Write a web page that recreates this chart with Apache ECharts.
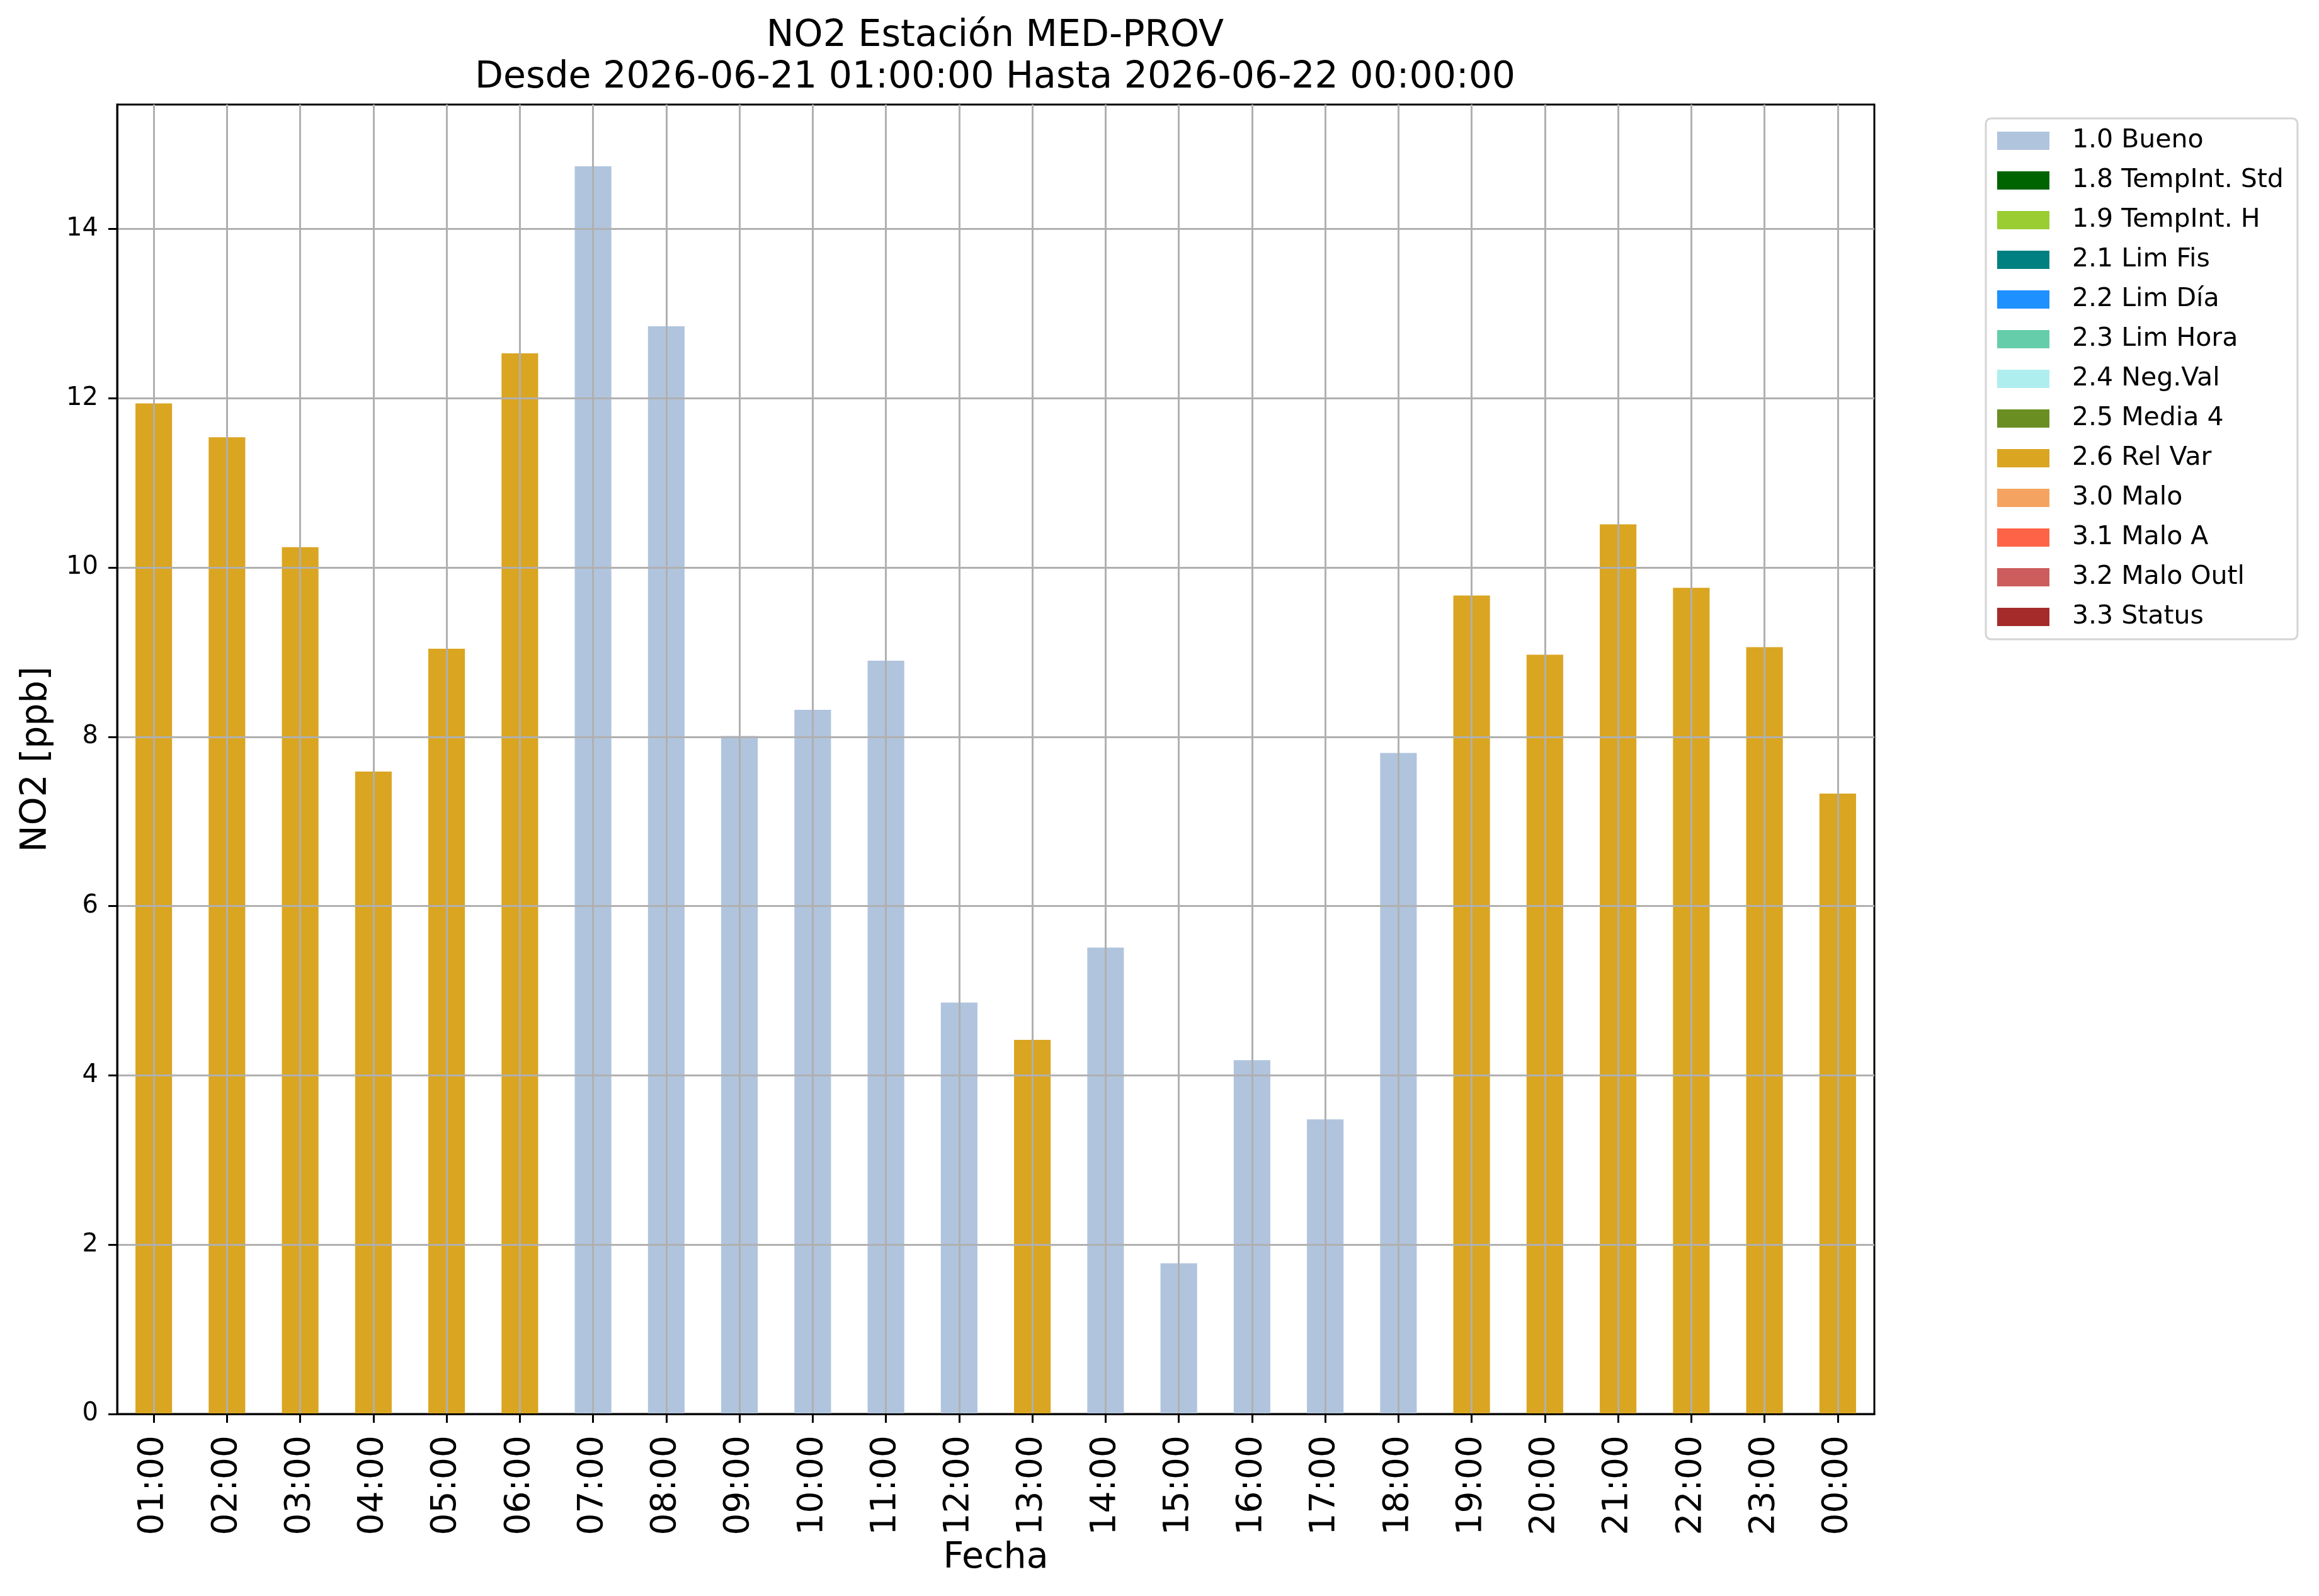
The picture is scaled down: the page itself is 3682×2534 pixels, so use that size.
<!DOCTYPE html>
<html>
<head>
<meta charset="utf-8">
<script src="https://cdn.jsdelivr.net/npm/echarts@6/dist/echarts.min.js"></script>
<style>
html,body{margin:0;padding:0;background:#ffffff;}
#chart{width:3682px;height:2534px;}
</style>
</head>
<body>
<div id="chart"></div>
<script>
// ---- data ----
const categories = ['01:00','02:00','03:00','04:00','05:00','06:00','07:00','08:00','09:00','10:00','11:00','12:00',
                    '13:00','14:00','15:00','16:00','17:00','18:00','19:00','20:00','21:00','22:00','23:00','00:00'];
const values = [11.94, 11.54, 10.24, 7.59, 9.04, 12.53, 14.74, 12.85, 8.01, 8.32, 8.90, 4.86,
                4.42, 5.51, 1.78, 4.18, 3.48, 7.81, 9.67, 8.97, 10.51, 9.76, 9.06, 7.33];
const flags = ['2.6 Rel Var','2.6 Rel Var','2.6 Rel Var','2.6 Rel Var','2.6 Rel Var','2.6 Rel Var',
               '1.0 Bueno','1.0 Bueno','1.0 Bueno','1.0 Bueno','1.0 Bueno','1.0 Bueno',
               '2.6 Rel Var','1.0 Bueno','1.0 Bueno','1.0 Bueno','1.0 Bueno','1.0 Bueno',
               '2.6 Rel Var','2.6 Rel Var','2.6 Rel Var','2.6 Rel Var','2.6 Rel Var','2.6 Rel Var'];
const classNames = ['1.0 Bueno','1.8 TempInt. Std','1.9 TempInt. H','2.1 Lim Fis','2.2 Lim Día','2.3 Lim Hora',
                    '2.4 Neg.Val','2.5 Media 4','2.6 Rel Var','3.0 Malo','3.1 Malo A','3.2 Malo Outl','3.3 Status'];
const classColors = ['#B0C4DE','#006400','#9ACD32','#008080','#1E90FF','#66CDAA',
                     '#AFEEEE','#6B8E23','#DAA520','#F4A460','#FF6347','#CD5C5C','#A52A2A'];
const yTicks = [0, 2, 4, 6, 8, 10, 12, 14];
const yMin = 0;
const yMax = 15.47;
const titleText = 'NO2 Estación MED-PROV\nDesde 2026-06-21 01:00:00 Hasta 2026-06-22 00:00:00';
const xName = 'Fecha';
const yName = 'NO2 [ppb]';

// ---- chart ----
const FONT = 'DejaVu Sans';
const chart = echarts.init(document.getElementById('chart'), null, {renderer: 'canvas'});

const series = classNames.map((name, k) => ({
  name: name,
  type: 'bar',
  stack: 'flag',
  barWidth: '50%',
  itemStyle: {color: classColors[k]},
  emphasis: {disabled: true},
  z: 2,
  data: values.map((v, i) => (flags[i] === name ? v : '-'))
}));

chart.setOption({
  animation: false,
  backgroundColor: '#ffffff',
  textStyle: {fontFamily: FONT},
  title: {
    text: titleText,
    left: 1580,
    top: 25,
    textAlign: 'center',
    padding: 0,
    textStyle: {fontFamily: FONT, fontSize: 58.5, fontWeight: 'normal', color: '#000', lineHeight: 66}
  },
  legend: {
    orient: 'vertical',
    left: 3153,
    top: 188,
    padding: [15, 22, 15, 18],
    itemGap: 22,
    itemWidth: 83,
    itemHeight: 29,
    icon: 'rect',
    selectedMode: false,
    backgroundColor: '#ffffff',
    borderColor: '#d4d4d4',
    borderWidth: 3,
    borderRadius: 8,
    textStyle: {fontFamily: FONT, fontSize: 41, color: '#000', padding: [0, 0, 0, 31]},
    data: classNames
  },
  grid: {
    left: 186, top: 166, width: 2790, height: 2079,
    show: true, borderColor: '#000', borderWidth: 3, backgroundColor: 'transparent'
  },
  xAxis: {
    type: 'category',
    data: categories,
    boundaryGap: true,
    z: 5,
    name: xName,
    nameLocation: 'middle',
    nameGap: 193,
    nameTextStyle: {fontFamily: FONT, fontSize: 57, color: '#000'},
    axisLine: {show: true, lineStyle: {color: '#000', width: 3}},
    axisTick: {show: true, alignWithLabel: true, length: 14, lineStyle: {color: '#000', width: 3}},
    axisLabel: {rotate: 90, interval: 0, margin: 34, fontFamily: FONT, fontSize: 55, color: '#000'},
    splitLine: {show: true, alignWithLabel: true, interval: 0, lineStyle: {color: '#b0b0b0', width: 3}}
  },
  yAxis: {
    type: 'value',
    min: yMin,
    max: yMax,
    interval: 2,
    z: 5,
    name: yName,
    nameLocation: 'middle',
    nameGap: 99,
    nameRotate: 90,
    nameTextStyle: {fontFamily: FONT, fontSize: 57, color: '#000'},
    axisLine: {show: true, lineStyle: {color: '#000', width: 3}},
    axisTick: {show: true, length: 14, customValues: yTicks, lineStyle: {color: '#000', width: 3}},
    axisLabel: {margin: 30, fontFamily: FONT, fontSize: 40, color: '#000', customValues: yTicks,
                formatter: v => (yTicks.indexOf(v) >= 0 ? String(v) : '')},
    splitLine: {show: true, lineStyle: {color: '#b0b0b0', width: 3}}
  },
  series: series
});
</script>
</body>
</html>
